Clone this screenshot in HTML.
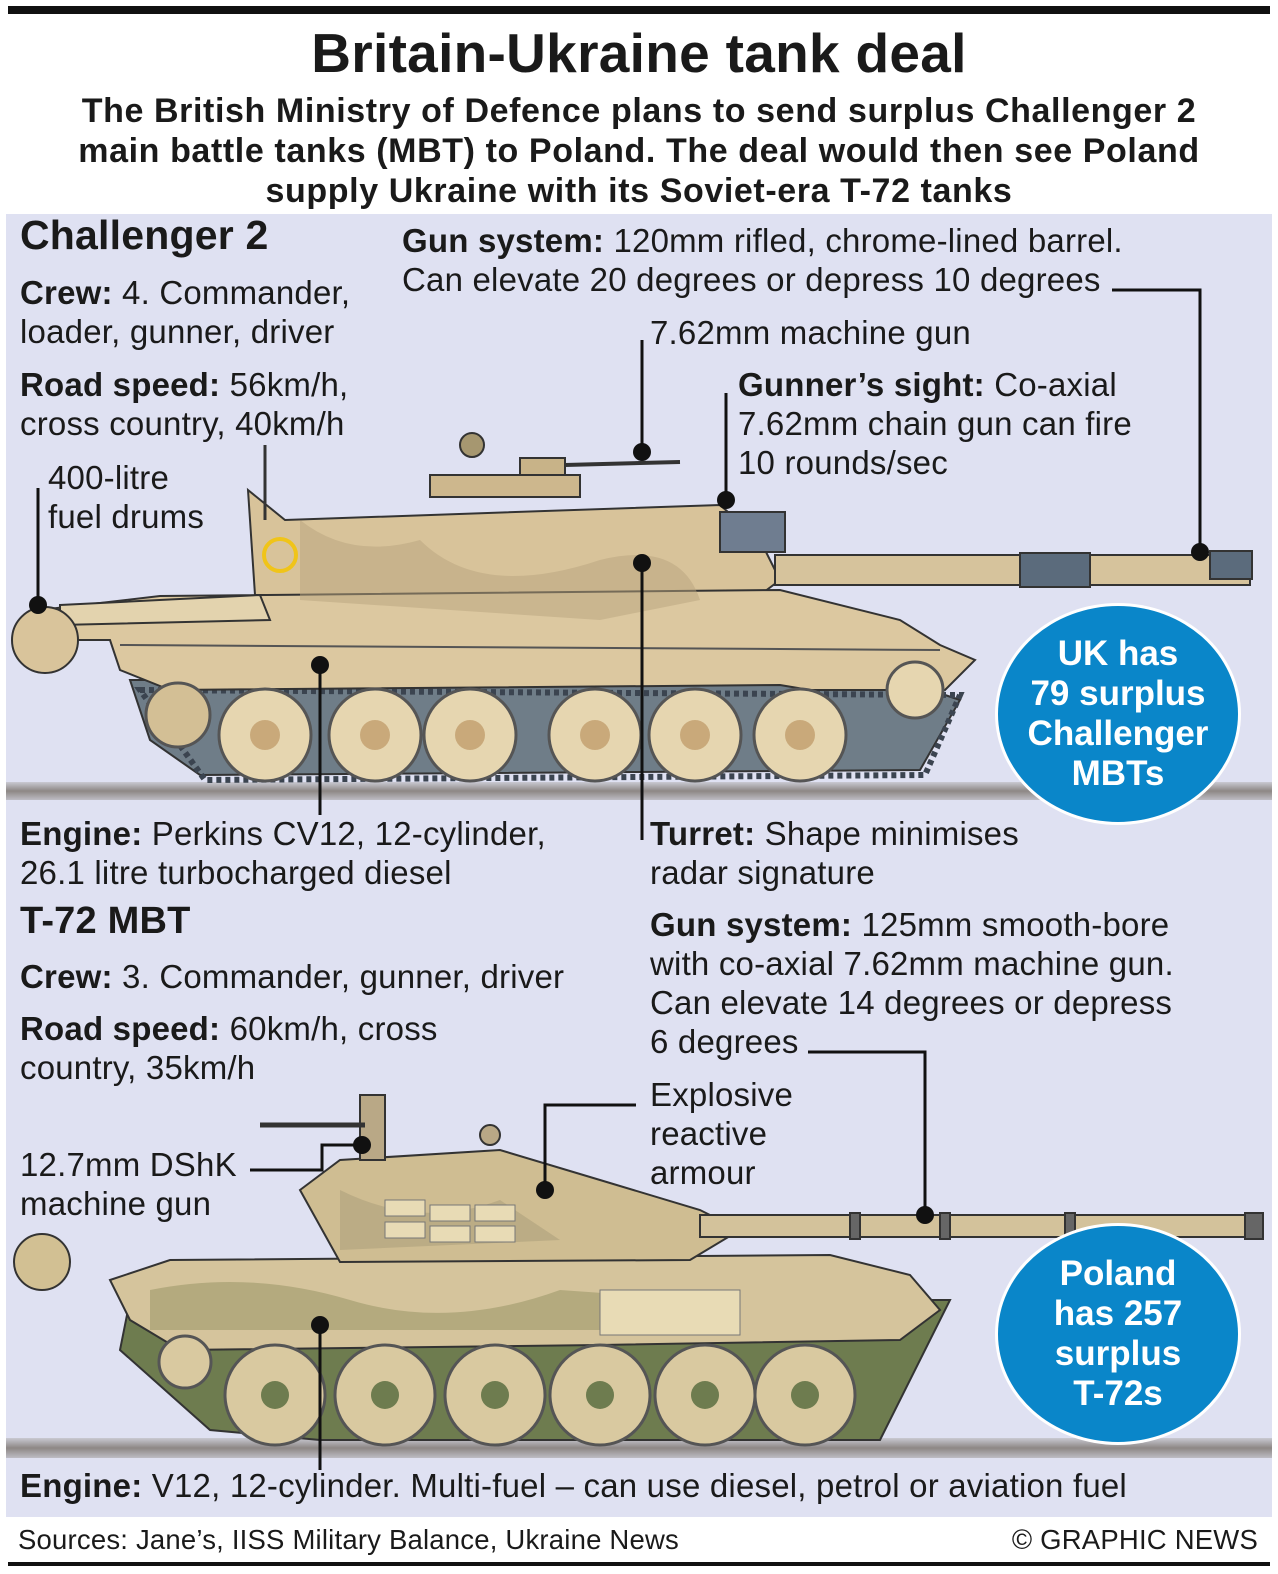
<!DOCTYPE html>
<html><head><meta charset="utf-8">
<style>
*{margin:0;padding:0;box-sizing:border-box}
body{width:1278px;height:1574px;background:#fff;position:relative;overflow:hidden;font-family:"Liberation Sans",sans-serif;color:#1a1a1a}
.t{position:absolute;font-size:33px;line-height:39px;white-space:nowrap;letter-spacing:0.2px}
b{font-weight:bold}
.h{font-weight:bold;font-size:41px}
.c{position:absolute;border-radius:50%;background:#0a86c9;border:3px solid #fff;color:#fff;font-weight:bold;font-size:35px;line-height:40px;text-align:center;display:flex;align-items:center;justify-content:center}
</style></head><body>
<div style="position:absolute;left:8px;top:6px;width:1262px;height:8px;background:#111"></div>
<div style="position:absolute;left:0;top:22px;width:1278px;text-align:center;font-weight:bold;font-size:55px;line-height:62px;letter-spacing:0.3px">Britain-Ukraine tank deal</div>
<div style="position:absolute;left:0;top:91px;width:1278px;text-align:center;font-weight:bold;font-size:34px;line-height:40px;letter-spacing:0.6px;white-space:nowrap">The British Ministry of Defence plans to send surplus Challenger 2<br>main battle tanks (MBT) to Poland. The deal would then see Poland<br>supply Ukraine with its Soviet-era T-72 tanks</div>
<div style="position:absolute;left:6px;top:214px;width:1266px;height:1303px;background:#dfe1f2"></div>
<div style="position:absolute;left:6px;top:782px;width:1266px;height:18px;background:linear-gradient(#c9c9d2,#8d8785,#bdbcc4)"></div>
<div style="position:absolute;left:6px;top:1438px;width:1266px;height:20px;background:linear-gradient(#c9c9d2,#8d8785,#bdbcc4)"></div>

<svg style="position:absolute;left:0;top:0" width="1278" height="1574">
<g stroke="#333" stroke-width="2">
<path d="M130 680 L900 680 L960 700 L920 770 L200 775 L150 740 Z" fill="#6f7d88"/>
<path d="M140 690 L960 695 L925 775 L205 780 Z" fill="none" stroke="#3b4450" stroke-width="6" stroke-dasharray="5 4"/>
<path d="M248 490 L285 520 L720 505 L760 540 L780 580 L760 595 L255 595 Z" fill="#d8c39a"/>
<path d="M40 610 L160 596 L780 590 L900 620 L940 645 L975 660 L945 690 L810 690 L780 685 L170 690 L120 670 L110 640 L50 640 Z" fill="#dcc8a0"/>
<path d="M60 605 L260 595 L270 620 L60 625Z" fill="#e3d3ae"/>
<path d="M120 645 L940 650" stroke="#555"/>
<circle cx="45" cy="640" r="33" fill="#d9c49b"/>
<rect x="775" y="555" width="475" height="30" fill="#d6c39c"/>
<rect x="1020" y="553" width="70" height="34" fill="#5b6b7c"/>
<rect x="1210" y="551" width="42" height="28" fill="#5b6b7c"/>
<rect x="720" y="512" width="65" height="40" fill="#6f7d90"/>
<rect x="520" y="458" width="45" height="30" fill="#c8b388"/>
<rect x="430" y="475" width="150" height="22" fill="#cdb78d"/>
<circle cx="472" cy="445" r="12" fill="#a69770"/>
</g>
<path d="M300 520 Q350 560 420 540 Q480 600 600 560 Q680 540 700 600 L600 620 L300 600Z" fill="#b8a47e" opacity=".5"/>
<circle cx="280" cy="555" r="16" fill="none" stroke="#f0c419" stroke-width="4"/>
<g fill="#e6d6b0" stroke="#555" stroke-width="3">
<circle cx="265" cy="735" r="46"/><circle cx="375" cy="735" r="46"/><circle cx="470" cy="735" r="46"/><circle cx="595" cy="735" r="46"/><circle cx="695" cy="735" r="46"/><circle cx="800" cy="735" r="46"/><circle cx="915" cy="690" r="28"/>
<circle cx="178" cy="715" r="32" fill="#d3bf95"/>
</g>
<g fill="#c9a97a"><circle cx="265" cy="735" r="15"/><circle cx="375" cy="735" r="15"/><circle cx="470" cy="735" r="15"/><circle cx="595" cy="735" r="15"/><circle cx="695" cy="735" r="15"/><circle cx="800" cy="735" r="15"/></g>
<line x1="265" y1="520" x2="265" y2="445" stroke="#333" stroke-width="3"/>
<line x1="565" y1="465" x2="680" y2="462" stroke="#333" stroke-width="4"/>

<g stroke="#333" stroke-width="2">
<path d="M130 1300 L950 1300 L880 1440 L320 1440 L210 1430 L120 1350 Z" fill="#6e7c4f"/>
<path d="M110 1280 L170 1260 L830 1255 L910 1275 L940 1310 L900 1340 L600 1345 L180 1350 L130 1320 Z" fill="#d5c49c"/>
<path d="M300 1190 L340 1160 L500 1150 L600 1180 L700 1210 L740 1230 L690 1260 L340 1262 Z" fill="#cfbd92"/>
<rect x="700" y="1215" width="560" height="22" fill="#d3c29b"/>
<rect x="850" y="1213" width="10" height="26" fill="#666"/><rect x="940" y="1213" width="10" height="26" fill="#666"/><rect x="1065" y="1213" width="10" height="26" fill="#666"/><rect x="1245" y="1213" width="18" height="26" fill="#666"/>
<circle cx="42" cy="1262" r="28" fill="#d2c093"/>
<rect x="360" y="1095" width="25" height="65" fill="#b9a886"/>
<line x1="260" y1="1125" x2="365" y2="1125" stroke-width="5"/>
<circle cx="490" cy="1135" r="10" fill="#b9a886"/>
</g>
<path d="M150 1290 Q250 1270 350 1300 Q450 1330 560 1290 L700 1300 L700 1330 L150 1330Z" fill="#8c8b5c" opacity=".45"/>
<path d="M340 1190 Q420 1230 500 1200 L560 1240 L340 1250Z" fill="#a89b78" opacity=".5"/>
<g fill="#e8dbb5" stroke="#777"><rect x="385" y="1200" width="40" height="16"/><rect x="430" y="1205" width="40" height="16"/><rect x="475" y="1205" width="40" height="16"/><rect x="385" y="1222" width="40" height="16"/><rect x="430" y="1226" width="40" height="16"/><rect x="475" y="1226" width="40" height="16"/><rect x="600" y="1290" width="140" height="45"/></g>
<g fill="#d9c9a0" stroke="#555" stroke-width="3">
<circle cx="275" cy="1395" r="50"/><circle cx="385" cy="1395" r="50"/><circle cx="495" cy="1395" r="50"/><circle cx="600" cy="1395" r="50"/><circle cx="705" cy="1395" r="50"/><circle cx="805" cy="1395" r="50"/><circle cx="185" cy="1362" r="26"/>
</g>
<g fill="#6e7c4f"><circle cx="275" cy="1395" r="14"/><circle cx="385" cy="1395" r="14"/><circle cx="495" cy="1395" r="14"/><circle cx="600" cy="1395" r="14"/><circle cx="705" cy="1395" r="14"/><circle cx="805" cy="1395" r="14"/></g>

<g stroke="#111" stroke-width="3" fill="none">
<polyline points="1112,290 1200,290 1200,552"/>
<line x1="642" y1="340" x2="642" y2="452"/>
<line x1="726" y1="393" x2="726" y2="500"/>
<line x1="38" y1="488" x2="38" y2="605"/>
<line x1="320" y1="665" x2="320" y2="815"/>
<line x1="642" y1="563" x2="642" y2="840"/>
<polyline points="808,1052 925,1052 925,1215"/>
<polyline points="636,1105 545,1105 545,1190"/>
<polyline points="250,1170 322,1170 322,1145 362,1145"/>
<line x1="320" y1="1325" x2="320" y2="1470"/>
</g>
<g fill="#111"><circle cx="1200" cy="552" r="9"/><circle cx="642" cy="452" r="9"/><circle cx="726" cy="500" r="9"/><circle cx="38" cy="605" r="9"/><circle cx="320" cy="665" r="9"/><circle cx="642" cy="563" r="9"/><circle cx="925" cy="1215" r="9"/><circle cx="545" cy="1190" r="9"/><circle cx="362" cy="1145" r="9"/><circle cx="320" cy="1325" r="9"/></g>
</svg>

<div class="t h" style="left:20px;top:216px">Challenger 2</div>
<div class="t" style="left:20px;top:273px"><b>Crew:</b> 4. Commander,<br>loader, gunner, driver</div>
<div class="t" style="left:20px;top:365px"><b>Road speed:</b> 56km/h,<br>cross country, 40km/h</div>
<div class="t" style="left:48px;top:458px">400-litre<br>fuel drums</div>
<div class="t" style="left:402px;top:221px"><b>Gun system:</b> 120mm rifled, chrome-lined barrel.<br>Can elevate 20 degrees or depress 10 degrees</div>
<div class="t" style="left:650px;top:313px">7.62mm machine gun</div>
<div class="t" style="left:738px;top:365px"><b>Gunner’s sight:</b> Co-axial<br>7.62mm chain gun can fire<br>10 rounds/sec</div>
<div class="c" style="left:995px;top:603px;width:246px;height:222px">UK has<br>79 surplus<br>Challenger<br>MBTs</div>
<div class="t" style="left:20px;top:814px"><b>Engine:</b> Perkins CV12, 12-cylinder,<br>26.1 litre turbocharged diesel</div>
<div class="t" style="left:650px;top:814px"><b>Turret:</b> Shape minimises<br>radar signature</div>
<div class="t h" style="left:20px;top:902px;font-size:38px">T-72 MBT</div>
<div class="t" style="left:20px;top:957px"><b>Crew:</b> 3. Commander, gunner, driver</div>
<div class="t" style="left:20px;top:1009px"><b>Road speed:</b> 60km/h, cross<br>country, 35km/h</div>
<div class="t" style="left:650px;top:905px"><b>Gun system:</b> 125mm smooth-bore<br>with co-axial 7.62mm machine gun.<br>Can elevate 14 degrees or depress<br>6 degrees</div>
<div class="t" style="left:650px;top:1075px">Explosive<br>reactive<br>armour</div>
<div class="t" style="left:20px;top:1145px">12.7mm DShK<br>machine gun</div>
<div class="c" style="left:995px;top:1223px;width:246px;height:222px">Poland<br>has 257<br>surplus<br>T-72s</div>
<div class="t" style="left:20px;top:1466px"><b>Engine:</b> V12, 12-cylinder. Multi-fuel – can use diesel, petrol or aviation fuel</div>
<div class="t" style="left:18px;top:1520px;font-size:27.5px">Sources: Jane’s, IISS Military Balance, Ukraine News</div>
<div class="t" style="right:20px;top:1520px;font-size:27.5px">© GRAPHIC NEWS</div>
<div style="position:absolute;left:8px;top:1562px;width:1262px;height:4px;background:#111"></div>
</body></html>
